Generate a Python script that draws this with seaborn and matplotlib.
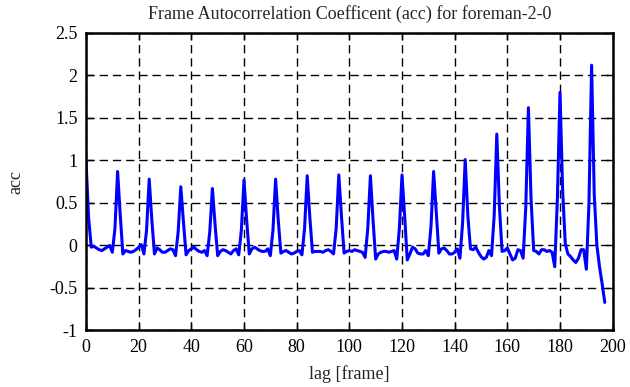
import numpy as np
import pandas as pd
import matplotlib
matplotlib.use("Agg")
import matplotlib.pyplot as plt
import seaborn as sns

title = "Frame Autocorrelation Coefficent (acc) for foreman-2-0"
x_label = "lag [frame]"
y_label = "acc"
x_ticks = [0, 20, 40, 60, 80, 100, 120, 140, 160, 180, 200]
y_ticks = [-1, -0.5, 0, 0.5, 1, 1.5, 2, 2.5]

acc = [
    1.00, 0.32, -0.02, -0.01, -0.03, -0.05, -0.06, -0.04, -0.02, 0.00, -0.08, 0.20,
    0.87, 0.36, -0.10, -0.06, -0.07, -0.08, -0.07, -0.05, -0.02, 0.01, -0.10, 0.18,
    0.78, 0.30, -0.10, -0.03, -0.05, -0.08, -0.08, -0.06, -0.04, -0.05, -0.12, 0.16,
    0.69, 0.28, -0.11, -0.06, -0.04, -0.02, -0.05, -0.07, -0.08, -0.06, -0.12, 0.16,
    0.67, 0.25, -0.12, -0.07, -0.05, -0.06, -0.08, -0.10, -0.06, -0.04, -0.11, 0.18,
    0.77, 0.30, -0.10, -0.04, -0.02, -0.04, -0.06, -0.07, -0.07, -0.04, -0.12, 0.18,
    0.78, 0.30, -0.09, -0.07, -0.06, -0.08, -0.10, -0.09, -0.07, -0.06, -0.11, 0.20,
    0.82, 0.33, -0.08, -0.07, -0.07, -0.07, -0.08, -0.06, -0.05, -0.07, -0.10, 0.20,
    0.83, 0.35, -0.09, -0.07, -0.06, -0.07, -0.05, -0.06, -0.07, -0.08, -0.14, 0.20,
    0.82, 0.30, -0.16, -0.10, -0.08, -0.07, -0.07, -0.08, -0.07, -0.06, -0.16, 0.20,
    0.83, 0.35, -0.17, -0.10, -0.02, -0.04, -0.09, -0.10, -0.10, -0.06, -0.12, 0.22,
    0.87, 0.40, -0.09, -0.04, -0.03, -0.06, -0.10, -0.10, -0.08, -0.04, -0.15, 0.26,
    1.01, 0.35, -0.04, -0.05, -0.02, -0.08, -0.13, -0.16, -0.14, -0.06, -0.12, 0.35,
    1.31, 0.45, -0.07, -0.06, -0.03, -0.10, -0.17, -0.15, -0.05, -0.06, -0.15, 0.45,
    1.62, 0.55, -0.06, -0.07, -0.10, -0.05, -0.05, -0.07, -0.06, -0.08, -0.25, 0.55,
    1.80, 0.65, 0.02, -0.10, -0.13, -0.17, -0.20, -0.15, -0.05, -0.05, -0.28, 0.50,
    2.12, 0.60, 0.00, -0.25, -0.45, -0.67,
]
lag = list(range(len(acc)))

df = pd.DataFrame({"lag": lag, "acc": acc})

sns.set_style("white")
plt.rcParams["font.family"] = ["Liberation Serif", "DejaVu Serif"]

fig = plt.figure(figsize=(6.30, 3.87), dpi=100)
ax = fig.add_axes([0.1365, 0.146, 0.836, 0.769])

sns.lineplot(data=df, x="lag", y="acc", ax=ax, color="#0000ff", linewidth=2.2)

ax.set_xlim(0, 200)
ax.set_ylim(-1, 2.5)
ax.set_xticks(x_ticks)
ax.set_yticks(y_ticks)
ax.set_xticklabels([str(t) for t in x_ticks], fontsize=13)
ax.set_yticklabels([("%g" % t) for t in y_ticks], fontsize=13)
ax.grid(True, color="black", linestyle=(0, (6, 3.5)), linewidth=1.0)
ax.tick_params(direction="in", length=5, width=1, top=True, right=True,
               bottom=True, left=True, colors="black", pad=6)
for s in ax.spines.values():
    s.set_color("black")
    s.set_linewidth(1.8)
ax.set_xlabel(x_label, fontsize=13, labelpad=7)
ax.set_ylabel(y_label, fontsize=13, labelpad=18)
ax.set_title(title, fontsize=13, pad=10)

fig.savefig("out.png", dpi=100)
